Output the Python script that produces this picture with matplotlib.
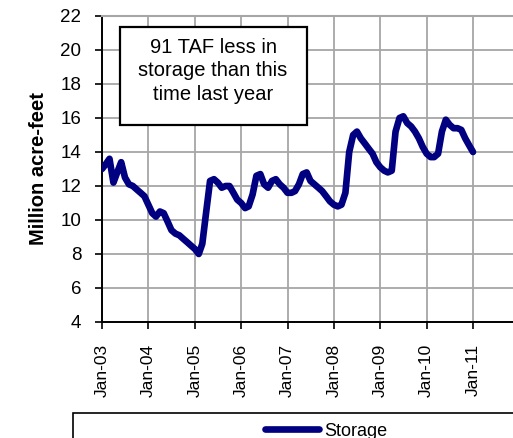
"""Grafik storage waduk bulanan (juta acre-feet) Jan-03 s/d Jan-11."""

import matplotlib

matplotlib.use("Agg")
import matplotlib.dates as mdates
import matplotlib.pyplot as plt
import pandas as pd
from matplotlib.patches import Rectangle

# Data dibaca dari gambar referensi: satu nilai per awal bulan.
START_MONTH = "2003-01-01"
STORAGE = [
    13.0, 13.3, 13.6, 12.2, 12.8, 13.4, 12.5, 12.1, 12.0, 11.8, 11.6, 11.4,  # 2003
    10.9, 10.4, 10.2, 10.5, 10.4, 9.9, 9.4, 9.2, 9.1, 8.9, 8.7, 8.5,  # 2004
    8.3, 8.0, 8.6, 10.5, 12.3, 12.4, 12.2, 11.9, 12.0, 12.0, 11.6, 11.2,  # 2005
    11.0, 10.7, 10.8, 11.5, 12.6, 12.7, 12.1, 11.9, 12.3, 12.4, 12.1, 11.9,  # 2006
    11.6, 11.6, 11.7, 12.1, 12.7, 12.8, 12.3, 12.1, 11.9, 11.7, 11.4, 11.1,  # 2007
    10.9, 10.8, 10.9, 11.6, 14.0, 15.0, 15.2, 14.8, 14.5, 14.2, 13.9, 13.4,  # 2008
    13.1, 12.9, 12.8, 12.9, 15.2, 16.0, 16.1, 15.7, 15.5, 15.2, 14.8, 14.3,  # 2009
    13.9, 13.7, 13.7, 13.9, 15.2, 15.9, 15.6, 15.4, 15.4, 15.3, 14.8, 14.4,  # 2010
    14.0,  # Jan-11
]
YEAR_TICKS = pd.date_range("2003-01-01", "2011-01-01", freq="YS")
Y_TICKS = list(range(4, 23, 2))
NOTE = "91 TAF less in\nstorage than this\ntime last year"
SERIES_LABEL = "Storage"
Y_LABEL = "Million acre-feet"

LINE_COLOR = "#000080"
GRID_COLOR = "#a6a6a6"
W, H = 513, 438


def main() -> None:
    plt.rcParams["font.family"] = ["Liberation Sans", "DejaVu Sans"]
    months = pd.date_range(START_MONTH, periods=len(STORAGE), freq="MS")

    fig = plt.figure(figsize=(W / 100, H / 100), dpi=100)
    # Posisi plot area disamakan dengan piksel referensi (kiri 102, atas 16, bawah 322).
    ax = fig.add_axes([102 / W, 116 / H, 411 / W, 306 / H])

    line, = ax.plot(months, STORAGE, color=LINE_COLOR, linewidth=4.8,
                    solid_joinstyle="round", solid_capstyle="round",
                    label=SERIES_LABEL, zorder=3)

    ax.set_ylim(4, 22)
    ax.set_yticks(Y_TICKS)
    # Sumbu x melebar sampai tepi kanan gambar, lewat Jan-11.
    ax.set_xlim(months[0], months[0] + pd.Timedelta(days=3237))
    ax.set_xticks(YEAR_TICKS)
    ax.xaxis.set_major_formatter(mdates.DateFormatter("Jan-%y"))

    ax.grid(True, color=GRID_COLOR, linewidth=1.3)
    ax.set_axisbelow(True)
    for side in ("left", "bottom"):
        ax.spines[side].set_color("black")
        ax.spines[side].set_linewidth(1.4)
    ax.spines["right"].set_visible(False)
    ax.spines["top"].set_color(GRID_COLOR)
    ax.spines["top"].set_linewidth(1.5)

    ax.tick_params(axis="both", direction="out", length=5, width=1.2, color="black")
    ax.tick_params(axis="y", labelsize=13.5, pad=10)
    ax.tick_params(axis="x", labelsize=12.5, pad=11, labelrotation=90)
    ax.set_ylabel(Y_LABEL, fontsize=14.5, fontweight="bold", labelpad=9)

    # Kotak catatan di pojok kiri atas plot (kotak dibuat terpisah agar ukurannya pas).
    fig.patches.append(Rectangle((120 / W, 1 - 125 / H), 187 / W, 98 / H,
                                 transform=fig.transFigure, facecolor="white",
                                 edgecolor="black", linewidth=1.6, zorder=4))
    fig.text(213 / W, 1 - 71 / H, NOTE, ha="center", va="center", fontsize=14.5,
             linespacing=1.3, zorder=5)

    # Bingkai legenda terpotong di bawah, seperti referensi.
    fig.patches.append(Rectangle((73 / W, -0.2), 1.0, 0.2 + 1 - 413 / H,
                                 transform=fig.transFigure, facecolor="white",
                                 edgecolor="black", linewidth=1.2))
    fig.legend(handles=[line], loc="center left", bbox_to_anchor=(265 / W, 7 / H),
               frameon=False, fontsize=13, handlelength=3.0, handletextpad=0.3,
               borderpad=0, borderaxespad=0)

    fig.savefig("out.png", dpi=100)
    plt.close(fig)


if __name__ == "__main__":
    main()
